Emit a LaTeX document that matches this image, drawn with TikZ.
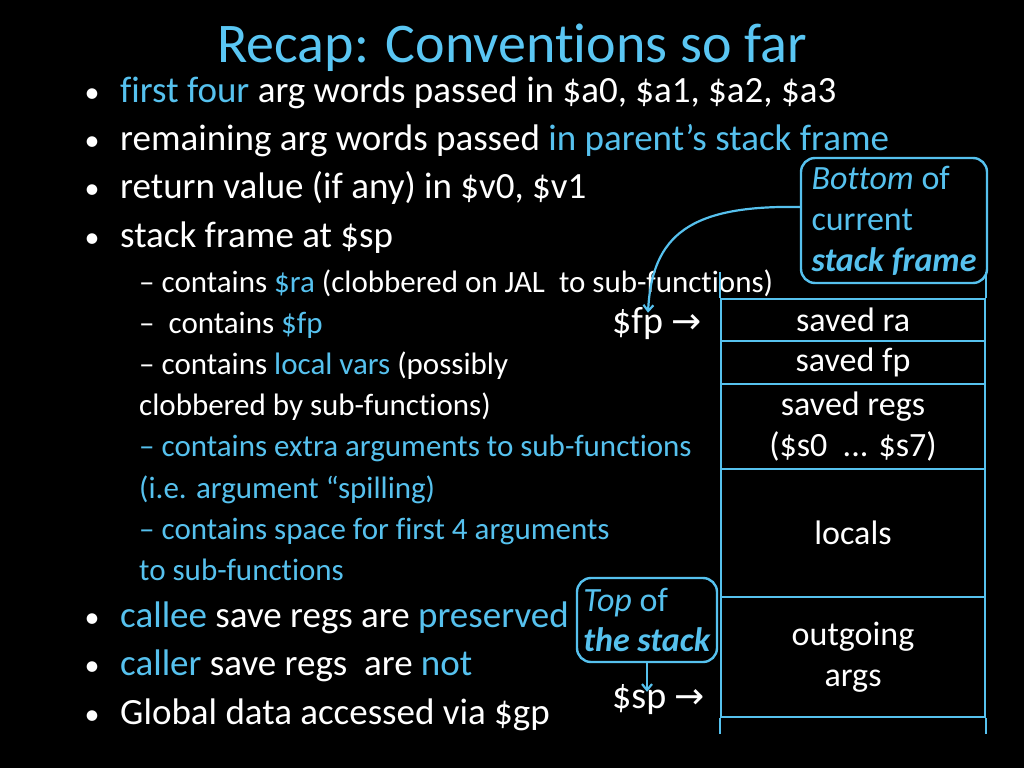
\documentclass[tikz,border=0pt]{standalone}
\usepackage{fontspec}
\setmainfont{Carlito}[Ligatures=NoCommon]
\newfontfamily\symfont{DejaVu Sans}
\usetikzlibrary{arrows.meta,calc}
\definecolor{cblue}{RGB}{86,193,238}
\definecolor{tblue}{RGB}{90,198,243}
\begin{document}
\begin{tikzpicture}[x=1pt,y=-1pt,
  txt/.style={anchor=base west,inner sep=0pt,text=white,font=\fontsize{37}{40}\selectfont},
  bul/.style={anchor=base,inner sep=0pt,text=white,font=\fontsize{30}{40}\selectfont},
  sub/.style={anchor=base west,inner sep=0pt,text=white,font=\fontsize{31}{34}\selectfont},
  cell/.style={draw=cblue,line width=2.2pt,minimum width=264pt,inner sep=0pt,text=white,align=center},
  callout/.style={draw=cblue,line width=2.4pt,rounded corners=14pt,inner sep=0pt,text=cblue,align=left},
  ptr/.style={anchor=base west,inner sep=0pt,text=white,font=\fontsize{38}{40}\selectfont},
  conn/.style={draw=cblue,line width=2.2pt,-{Straight Barb[length=6pt,width=10pt]}},
  ]
\fill[black] (0,0) rectangle (1024,768);
\useasboundingbox (0,0) rectangle (1024,768);

\node[anchor=base,inner sep=0pt,text=tblue,font=\fontsize{56}{60}\selectfont] (title) at (512,63) {Recap: Conventions so far};

\node[bul] (b1) at (92,102) {•};
\node[txt] (l1) at (120,102) {\textcolor{cblue}{first four} arg words passed in \$a0, \$a1, \$a2, \$a3};
\node[bul] (b2) at (92,150) {•};
\node[txt] (l2) at (120,150) {remaining arg words passed \textcolor{cblue}{in parent’s stack frame}};
\node[bul] (b3) at (92,198) {•};
\node[txt] (l3) at (120,198) {return value (if any) in \$v0, \$v1};
\node[bul] (b4) at (92,247) {•};
\node[txt] (l4) at (120,247) {stack frame at \$sp};

\node[sub] (s1) at (139,292) {– contains \textcolor{cblue}{\$ra} (clobbered on JAL\ \ to sub-functions)};
\node[sub] (s2) at (139,333) {–\ \ contains \textcolor{cblue}{\$fp}};
\node[sub] (s3) at (139,374) {– contains \textcolor{cblue}{local vars} (possibly};
\node[sub] (s4) at (139,415) {clobbered by sub-functions)};
\node[sub,text=cblue] (s5) at (139,456) {– contains extra arguments to sub-functions};
\node[sub,text=cblue] (s6) at (139,498) {(i.e. argument “spilling)};
\node[sub,text=cblue] (s7) at (139,539) {– contains space for first 4 arguments};
\node[sub,text=cblue] (s8) at (139,580) {to sub-functions};

\node[bul] (b5) at (92,627) {•};
\node[txt] (l5) at (120,627) {\textcolor{cblue}{callee} save regs are \textcolor{cblue}{preserved}};
\node[bul] (b6) at (92,675) {•};
\node[txt] (l6) at (120,675) {\textcolor{cblue}{caller} save regs\ \ are \textcolor{cblue}{not}};
\node[bul] (b7) at (92,724) {•};
\node[txt] (l7) at (120,724) {Global data accessed via \$gp};

% stack
\begin{scope}[font=\fontsize{34}{41}\selectfont]
\node[cell,minimum height=42pt] (ra) at (853,320) {saved ra};
\node[cell,minimum height=43pt] (fp) at (853,362.5) {saved fp};
\node[cell,minimum height=85pt] (regs) at (853,426.5) {saved regs\\(\$s0\ \ ... \$s7)};
\node[cell,minimum height=128pt] (locals) at (853,533) {locals};
\node[cell,minimum height=120pt] (args) at (853,657) {outgoing\\args};
\end{scope}
\draw[draw=cblue,line width=2.2pt] (ra.north west) -- ++(0,-26);
\draw[draw=cblue,line width=2.2pt] (ra.north east) -- ++(0,-26);
\draw[draw=cblue,line width=2.2pt] (args.south west) -- ++(0,16);
\draw[draw=cblue,line width=2.2pt] (args.south east) -- ++(0,16);

% pointers
\node[ptr] (fpp) at (612,333) {\$fp {\symfont\fontsize{36}{38}\selectfont →}};
\node[ptr] (spp) at (612,708) {\$sp {\symfont\fontsize{36}{38}\selectfont →}};

% callouts
\node[callout,minimum width=186pt,minimum height=125pt,font=\fontsize{34}{41}\selectfont] (bot) at (894,220.5) {\textit{Bottom} of\\current\\\textbf{\textit{stack frame}}};
\node[callout,minimum width=140pt,minimum height=84pt,font=\fontsize{34}{40}\selectfont] (top) at (647,620) {\textit{Top} of\\\textbf{\textit{the stack}}};

\draw[conn] ([yshift=13.5pt]bot.west) .. controls (690,205) and (652,235) .. ($(fpp.north west)+(36,6)$);
\draw[conn] (top.south) -- ($(spp.north west)+(35,8)$);
\end{tikzpicture}
\end{document}
